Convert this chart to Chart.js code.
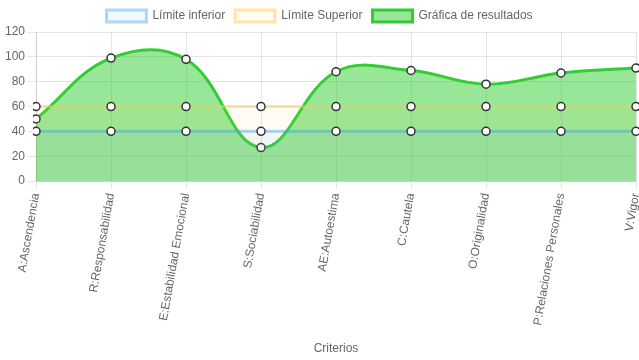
<!DOCTYPE html>
<html>
<head>
<meta charset="utf-8">
<script src="https://cdn.jsdelivr.net/npm/chart.js@4.4.0/dist/chart.umd.min.js"></script>
<style>
html,body{margin:0;padding:0;background:#fff;}
#wrap{width:639px;height:360px;}
</style>
</head>
<body>
<div id="wrap"><canvas id="c" width="639" height="360"></canvas></div>
<script>
const categories = ["A:Ascendencia","R:Responsabilidad","E:Estabilidad Emocional","S:Sociabilidad","AE:Autoestima","C:Cautela","O:Originalidad","P:Relaciones Personales","V:Vigor"];
const limiteInferior = [40,40,40,40,40,40,40,40,40];
const limiteSuperior = [60,60,60,60,60,60,60,60,60];
const resultados = [50,99,98,27,88,89,78,87,91];
const yTicks = [0,20,40,60,80,100,120];

Chart.defaults.font.family = "'Liberation Sans', Arial, Helvetica, sans-serif";
Chart.defaults.font.size = 12;
Chart.defaults.color = '#666';
// let the last point sit close to the canvas edge, as in the reference
Chart.LineController.prototype.getMaxOverflow = function(){ return 3; };

const pointStyle = {pointRadius:4, pointHoverRadius:5, pointBackgroundColor:'#fff', pointBorderColor:'#333', pointBorderWidth:1.5};

new Chart(document.getElementById('c'), {
  type:'line',
  data:{
    labels:categories,
    datasets:[
      Object.assign({label:'Límite inferior', data:limiteInferior, borderColor:'rgba(54,162,235,0.4)', backgroundColor:'rgba(54,162,235,0.07)', borderWidth:3, fill:'origin', tension:0.4}, pointStyle),
      Object.assign({label:'Límite Superior', data:limiteSuperior, borderColor:'rgba(255,206,86,0.5)', backgroundColor:'rgba(255,206,86,0.07)', borderWidth:3, fill:'origin', tension:0.4}, pointStyle),
      Object.assign({label:'Gráfica de resultados', data:resultados, borderColor:'rgb(50,205,50)', backgroundColor:'rgba(50,205,50,0.5)', borderWidth:3, fill:'origin', tension:0.4}, pointStyle)
    ]
  },
  options:{
    responsive:false,
    animation:false,
    plugins:{
      legend:{position:'top', labels:{boxWidth:40, color:'#666'}},
      tooltip:{enabled:false}
    },
    scales:{
      x:{
        title:{display:true, text:'Criterios', color:'#666'},
        ticks:{minRotation:80, maxRotation:80, autoSkip:false},
        grid:{color:'rgba(0,0,0,0.1)'},
        afterFit:(s)=>{ s.paddingRight = 1; s.height += 8; }
      },
      y:{
        min:0, max:120,
        afterBuildTicks:(axis)=>{axis.ticks = yTicks.map(v=>({value:v}));},
        grid:{color:'rgba(0,0,0,0.1)'},
        afterFit:(s)=>{ s.width += 2; }
      }
    }
  }
});
</script>
</body>
</html>
